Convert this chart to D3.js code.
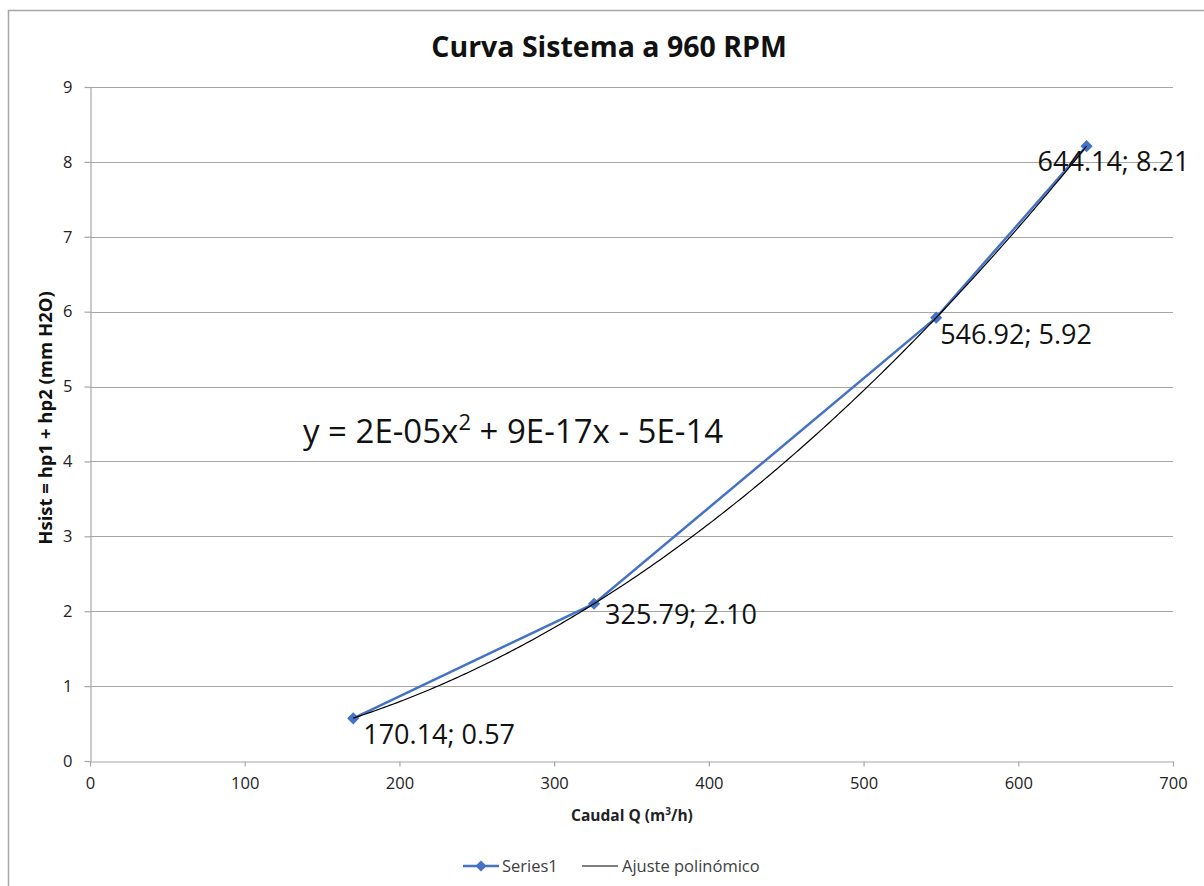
<!DOCTYPE html>
<html>
<head>
<meta charset="utf-8">
<script src="https://cdn.jsdelivr.net/npm/d3@7"></script>
<style>
  body { margin: 0; background: #fff; }
  svg { display: block; font-family: "Open Sans", sans-serif; }
</style>
</head>
<body>
<svg width="1204" height="886"></svg>
<script>
// data
var caudal = [170.14, 325.79, 546.92, 644.14];
var hsist  = [0.57, 2.10, 5.92, 8.21];
var labelDx = [10, 11, 4, -49];
var labelDy = [26, 20, 26, 25];
var xTicks = [0, 100, 200, 300, 400, 500, 600, 700];
var yTicks = [0, 1, 2, 3, 4, 5, 6, 7, 8, 9];

var svg = d3.select("svg");
var x = d3.scaleLinear().domain([0, 700]).range([90, 1173]);
var y = d3.scaleLinear().domain([0, 9]).range([761, 87]);

var points = caudal.map(function(q, i) { return { q: q, h: hsist[i] }; });

// page frame
svg.append("path")
  .attr("d", "M8.5,886 V10.5 H1204")
  .attr("fill", "none")
  .attr("stroke", "#a6a6a6")
  .attr("stroke-width", 1.5);

// gridlines
var gGrid = svg.append("g");
gGrid.selectAll("line")
  .data(yTicks.slice(1))
  .enter().append("line")
  .attr("x1", x(0)).attr("x2", x(700))
  .attr("y1", function(d) { return Math.round(y(d)) + 0.5; })
  .attr("y2", function(d) { return Math.round(y(d)) + 0.5; })
  .attr("stroke", "#a6a6a6")
  .attr("stroke-width", 1.2);

// axes
var xAxis = svg.append("g")
  .attr("transform", "translate(0," + (Math.round(y(0)) + 0.5) + ")")
  .call(d3.axisBottom(x).tickValues(xTicks).tickSize(5).tickPadding(11).tickSizeOuter(0));
var yAxis = svg.append("g")
  .attr("transform", "translate(" + (x(0) + 0.5) + ",0)")
  .call(d3.axisLeft(y).tickValues(yTicks).tickSize(6).tickPadding(12).tickSizeOuter(0));

[xAxis, yAxis].forEach(function(g) {
  g.select(".domain").attr("stroke", "#a6a6a6").attr("stroke-width", 1.2);
  g.selectAll(".tick line").attr("stroke", "#a6a6a6").attr("stroke-width", 1.2);
  g.selectAll(".tick text")
    .attr("fill", "#222")
    .style("font-size", "16.5px")
    .style("font-family", "'Open Sans', sans-serif");
});

// least squares fit y = a x^2 (Excel polynomial trendline, linear & constant ~0)
var a = d3.sum(points, function(d) { return d.q * d.q * d.h; }) /
        d3.sum(points, function(d) { return Math.pow(d.q, 4); });
var fitX = d3.range(caudal[0], caudal[3], 2).concat([caudal[3]]);

var fitLine = d3.line()
  .x(function(d) { return x(d); })
  .y(function(d) { return y(a * d * d); });

var seriesLine = d3.line()
  .x(function(d) { return x(d.q); })
  .y(function(d) { return y(d.h); });

svg.append("path")
  .datum(points)
  .attr("d", seriesLine)
  .attr("fill", "none")
  .attr("stroke", "#4472C4")
  .attr("stroke-width", 2.5);

svg.selectAll(".marker")
  .data(points)
  .enter().append("path")
  .attr("class", "marker")
  .attr("d", d3.symbol().type(d3.symbolDiamond2).size(95))
  .attr("transform", function(d) { return "translate(" + x(d.q) + "," + y(d.h) + ")"; })
  .attr("fill", "#4472C4");

svg.append("path")
  .datum(fitX)
  .attr("d", fitLine)
  .attr("fill", "none")
  .attr("stroke", "#000")
  .attr("stroke-width", 1.2);

// data labels
svg.selectAll(".dlabel")
  .data(points)
  .enter().append("text")
  .attr("class", "dlabel")
  .attr("x", function(d, i) { return x(d.q) + labelDx[i]; })
  .attr("y", function(d, i) { return y(d.h) + labelDy[i]; })
  .style("font-size", "27px")
  .attr("fill", "#111")
  .text(function(d) { return d.q.toFixed(2) + "; " + d.h.toFixed(2); });

// equation
var eq = svg.append("text")
  .attr("x", 303)
  .attr("y", 443)
  .style("font-size", "33px")
  .attr("fill", "#111");
eq.append("tspan").text("y = 2E-05x");
eq.append("tspan").attr("dy", -13).style("font-size", "22px").text("2");
eq.append("tspan").attr("dy", 13).text(" + 9E-17x - 5E-14");

// title
svg.append("text")
  .attr("x", 609)
  .attr("y", 57)
  .attr("text-anchor", "middle")
  .style("font-size", "28.5px")
  .style("font-weight", "bold")
  .attr("fill", "#111")
  .text("Curva Sistema a 960 RPM");

// axis titles
var xt = svg.append("text")
  .attr("x", 632)
  .attr("y", 821)
  .attr("text-anchor", "middle")
  .style("font-size", "15.5px")
  .style("font-weight", "bold")
  .attr("fill", "#222");
xt.append("tspan").text("Caudal Q (m");
xt.append("tspan").attr("dy", -6).style("font-size", "10px").text("3");
xt.append("tspan").attr("dy", 6).text("/h)");

svg.append("text")
  .attr("transform", "translate(52,418) rotate(-90)")
  .attr("text-anchor", "middle")
  .style("font-size", "18.5px")
  .style("font-weight", "bold")
  .attr("fill", "#111")
  .text("Hsist = hp1 + hp2 (mm H2O)");

// legend
var leg = svg.append("g").attr("transform", "translate(0,866)");
leg.append("line")
  .attr("x1", 463).attr("x2", 499)
  .attr("stroke", "#4472C4").attr("stroke-width", 2.5);
leg.append("path")
  .attr("d", d3.symbol().type(d3.symbolDiamond2).size(80))
  .attr("transform", "translate(481,0)")
  .attr("fill", "#4472C4");
leg.append("text")
  .attr("x", 502).attr("y", 6)
  .style("font-size", "16.5px")
  .attr("fill", "#404040")
  .text("Series1");
leg.append("line")
  .attr("x1", 582).attr("x2", 618)
  .attr("stroke", "#000").attr("stroke-width", 1.2);
leg.append("text")
  .attr("x", 622).attr("y", 6)
  .style("font-size", "16.5px")
  .attr("fill", "#404040")
  .text("Ajuste polinómico");
</script>
</body>
</html>
